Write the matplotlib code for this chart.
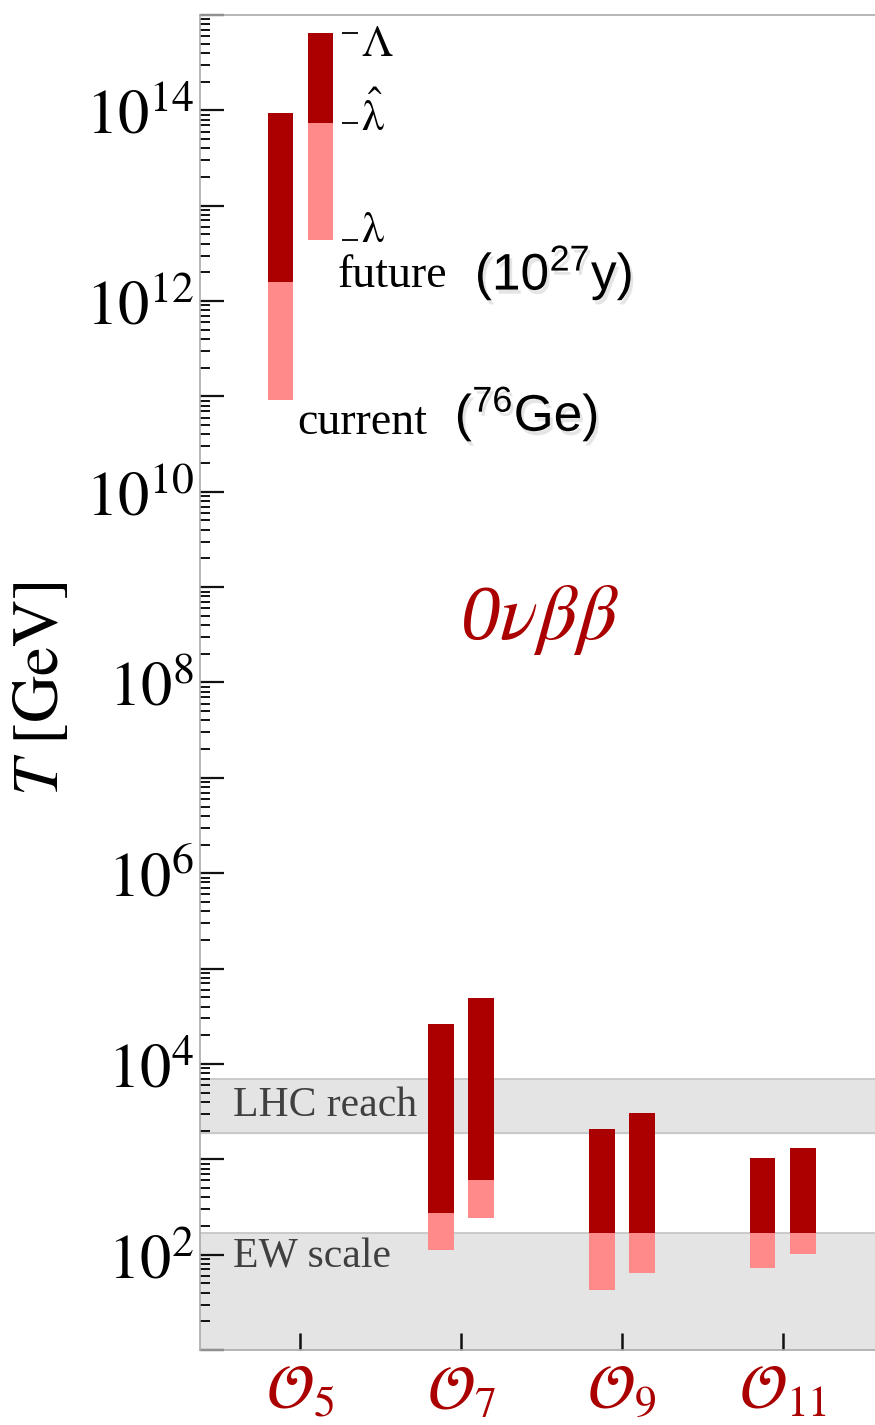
import math
import matplotlib
matplotlib.use('Agg')
import matplotlib.pyplot as plt
import matplotlib.patheffects as pe
from matplotlib.ticker import FixedLocator, FuncFormatter, LogLocator, NullFormatter

plt.rcParams['mathtext.fontset'] = 'stix'
plt.rcParams['mathtext.rm'] = 'Liberation Sans'
plt.rcParams['mathtext.it'] = 'Liberation Sans:italic'
plt.rcParams['mathtext.bf'] = 'Liberation Sans:bold'

# operator dimension and scales (GeV)
operators = [5, 7, 9, 11]
op_labels = [r'$\mathcal{O}_{5}$', r'$\mathcal{O}_{7}$', r'$\mathcal{O}_{9}$', r'$\mathcal{O}_{11}$']

# current limits (76Ge): lambda, lambda-hat, Lambda
current_lo = [9.1e10, 112, 42.7, 72.4]
current_mid = [1.58e12, 275, 170, 170]
current_hi = [9.3e13, 2.63e4, 2.09e3, 1.02e3]

# future sensitivity (1e27 y)
future_lo = [4.4e12, 245, 64.6, 102]
future_mid = [7.4e13, 603, 170, 170]
future_hi = [6.5e14, 4.9e4, 3.09e3, 1.32e3]

lhc_band = (1.9e3, 7.0e3)
ew_top = 170
edge_labels = [r'$\Lambda$', r'$\hat{\mathrm{\lambda}}$', r'$\mathrm{\lambda}$']

dark = '#aa0000'
light = '#ff8a8a'

fig = plt.figure(figsize=(8.75, 14.25), dpi=100)
ax = fig.add_axes([200 / 875, 1 - 1350 / 1425, 675 / 875, 1335 / 1425])
ax.set_yscale('log')
ax.set_ylim(1e1, 1e15)
ax.set_xlim(3.75, 12.15)

# bands
ax.axhspan(lhc_band[0], lhc_band[1], color='#e4e4e4', zorder=0)
ax.axhspan(1e1, ew_top, color='#e4e4e4', zorder=0)
for v in [lhc_band[0], lhc_band[1], ew_top]:
    ax.axhline(v, color='#c4c4c4', lw=1.2, zorder=0.5)

ax.text(4.16, 10**3.566, 'LHC reach', family='Liberation Serif', fontsize=30,
        color='#404040', va='center', ha='left')
ax.text(4.16, 10**1.969, 'EW scale', family='Liberation Serif', fontsize=30,
        color='#404040', va='center', ha='left')

off = 0.25
w = 0.32
for i, x in enumerate(operators):
    ax.bar(x - off, current_mid[i] - current_lo[i], bottom=current_lo[i], width=w, color=light, zorder=2)
    ax.bar(x - off, current_hi[i] - current_mid[i], bottom=current_mid[i], width=w, color=dark, zorder=2)
    ax.bar(x + off, future_mid[i] - future_lo[i], bottom=future_lo[i], width=w, color=light, zorder=2)
    ax.bar(x + off, future_hi[i] - future_mid[i], bottom=future_mid[i], width=w, color=dark, zorder=2)

# Lambda / lambda-hat / lambda markers on the O5 future bar
edges = [future_hi[0], future_mid[0], future_lo[0]]
dys = [-11, 6, 10]
x0 = operators[0] + off + w / 2
ax.hlines(edges, x0 + 0.11, x0 + 0.30, color='k', lw=1.3)
for e, lab, dy in zip(edges, edge_labels, dys):
    ax.annotate(lab, xy=(x0 + 0.34, e), xytext=(0, dy), textcoords='offset pixels',
                fontsize=32, va='center', ha='left')

shadow = [pe.withSimplePatchShadow(offset=(2, -3), shadow_rgbFace='k', alpha=0.1)]
ax.text(5.468, 10**12.15, 'future', family='Liberation Serif', fontsize=33, va='baseline')
ax.text(7.17, 10**12.12, r'$\mathrm{(10^{27}y)}$', math_fontfamily='custom', fontsize=37,
        va='baseline', path_effects=shadow)
ax.text(4.957, 10**10.61, 'current', family='Liberation Serif', fontsize=33, va='baseline')
ax.text(6.92, 10**10.64, r'$\mathrm{(^{76}Ge)}$', math_fontfamily='custom', fontsize=37,
        va='baseline', path_effects=shadow)

ax.text(7.98, 10**8.66, r'0$\nu\beta\beta$', family='Liberation Serif', style='italic',
        fontsize=57, color=dark, ha='center', va='center')

# axes styling
for s in ['left', 'top', 'bottom']:
    ax.spines[s].set_color('#aaaaaa')
    ax.spines[s].set_linewidth(1.2)
ax.spines['right'].set_visible(False)


def even_decades(v, pos):
    k = round(math.log10(v))
    return r'$10^{%d}$' % k if k % 2 == 0 else ''


ax.yaxis.set_major_locator(FixedLocator([10.0**k for k in range(1, 16)]))
ax.yaxis.set_major_formatter(FuncFormatter(even_decades))
ax.yaxis.set_minor_locator(LogLocator(base=10, subs=range(2, 10), numticks=40))
ax.yaxis.set_minor_formatter(NullFormatter())
ax.tick_params(axis='y', which='major', direction='in', length=17, width=1.6,
               color='#111111', labelsize=45, pad=4)
ax.tick_params(axis='y', which='minor', direction='in', length=7, width=1.4, color='#111111')

ax.set_xticks(operators)
ax.set_xticklabels(op_labels)
ax.tick_params(axis='x', direction='in', length=12, width=1.8, color='#111111',
               labelsize=45, labelcolor=dark, pad=8)

fig.text(40 / 875, 1 - 689 / 1425, r'$T\ [\mathrm{GeV}]$', fontsize=47, rotation=90,
         ha='center', va='center', math_fontfamily='stix')

fig.savefig('out.png', dpi=100)
